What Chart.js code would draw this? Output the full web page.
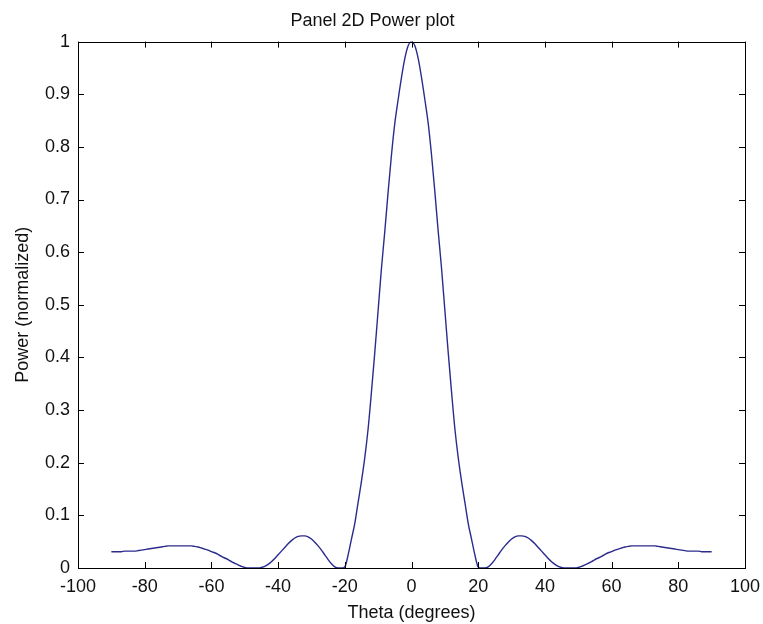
<!DOCTYPE html>
<html>
<head>
<meta charset="utf-8">
<script src="https://cdn.jsdelivr.net/npm/chart.js@4"></script>
<style>
  html, body { margin: 0; padding: 0; background: #ffffff; }
  #wrap { width: 763px; height: 624px; }
</style>
</head>
<body>
<div id="wrap"><canvas id="powerChart" width="763" height="624"></canvas></div>
<script>
// Theta samples (degrees), one per degree
const thetaDeg = [
  -90,-89,-88,-87,-86,-85,-84,-83,-82,-81,
  -80,-79,-78,-77,-76,-75,-74,-73,-72,-71,
  -70,-69,-68,-67,-66,-65,-64,-63,-62,-61,
  -60,-59,-58,-57,-56,-55,-54,-53,-52,-51,
  -50,-49,-48,-47,-46,-45,-44,-43,-42,-41,
  -40,-39,-38,-37,-36,-35,-34,-33,-32,-31,
  -30,-29,-28,-27,-26,-25,-24,-23,-22,-21,
  -20,-19,-18,-17,-16,-15,-14,-13,-12,-11,
  -10,-9,-8,-7,-6,-5,-4,-3,-2,-1,
  0,
  1,2,3,4,5,6,7,8,9,10,
  11,12,13,14,15,16,17,18,19,20,
  21,22,23,24,25,26,27,28,29,30,
  31,32,33,34,35,36,37,38,39,40,
  41,42,43,44,45,46,47,48,49,50,
  51,52,53,54,55,56,57,58,59,60,
  61,62,63,64,65,66,67,68,69,70,
  71,72,73,74,75,76,77,78,79,80,
  81,82,83,84,85,86,87,88,89,90
];

// Normalized power
const powerNorm = [
  0.031,0.031,0.031,0.031,0.032,0.032,0.032,0.032,0.033,0.034,
  0.035,0.036,0.037,0.038,0.039,0.040,0.041,0.042,0.042,0.042,
  0.042,0.042,0.042,0.042,0.042,0.041,0.040,0.038,0.036,0.034,
  0.031,0.029,0.026,0.022,0.019,0.016,0.012,0.009,0.006,0.003,
  0.001,0.000,0.000,0.000,0.000,0.001,0.003,0.007,0.012,0.018,
  0.025,0.032,0.039,0.046,0.052,0.057,0.060,0.061,0.061,0.059,
  0.055,0.049,0.042,0.034,0.025,0.016,0.008,0.002,0.000,0.000,
  0.002,0.025,0.055,0.085,0.125,0.165,0.210,0.265,0.335,0.410,
  0.490,0.570,0.640,0.715,0.785,0.845,0.890,0.932,0.968,0.992,
  1.000,
  0.992,0.968,0.932,0.890,0.845,0.785,0.715,0.640,0.570,0.490,
  0.410,0.335,0.265,0.210,0.165,0.125,0.085,0.055,0.025,0.002,
  0.000,0.000,0.002,0.008,0.016,0.025,0.034,0.042,0.049,0.055,
  0.059,0.061,0.061,0.060,0.057,0.052,0.046,0.039,0.032,0.025,
  0.018,0.012,0.007,0.003,0.001,0.000,0.000,0.000,0.000,0.001,
  0.003,0.006,0.009,0.012,0.016,0.019,0.022,0.026,0.029,0.031,
  0.034,0.036,0.038,0.040,0.041,0.042,0.042,0.042,0.042,0.042,
  0.042,0.042,0.042,0.041,0.040,0.039,0.038,0.037,0.036,0.035,
  0.034,0.033,0.032,0.032,0.032,0.032,0.031,0.031,0.031,0.031
];

const xTickLabels = ['-100','-80','-60','-40','-20','0','20','40','60','80','100'];
const yTickLabels = ['0','0.1','0.2','0.3','0.4','0.5','0.6','0.7','0.8','0.9','1'];

const FONT = '"Liberation Sans", Arial, Helvetica, sans-serif';

// MATLAB-like box with inward tick marks on all four sides
const boxTicks = {
  id: 'boxTicks',
  afterDatasetsDraw(chart) {
    const { ctx, chartArea: a, scales } = chart;
    const len = 6;
    ctx.save();
    ctx.strokeStyle = '#000';
    ctx.lineWidth = 1;
    ctx.beginPath();
    scales.x.ticks.forEach(t => {
      const px = Math.round(scales.x.getPixelForValue(t.value)) + 0.5;
      ctx.moveTo(px, a.bottom); ctx.lineTo(px, a.bottom - len);
      ctx.moveTo(px, a.top); ctx.lineTo(px, a.top + len);
    });
    scales.y.ticks.forEach(t => {
      const py = Math.round(scales.y.getPixelForValue(t.value)) + 0.5;
      ctx.moveTo(a.left, py); ctx.lineTo(a.left + len, py);
      ctx.moveTo(a.right, py); ctx.lineTo(a.right - len, py);
    });
    ctx.stroke();
    ctx.strokeRect(Math.round(a.left) + 0.5, Math.round(a.top) + 0.5,
                   Math.round(a.right - a.left), Math.round(a.bottom - a.top));
    ctx.restore();
  }
};

const points = thetaDeg.map((t, i) => ({ x: t, y: powerNorm[i] }));

new Chart(document.getElementById('powerChart'), {
  type: 'line',
  data: {
    datasets: [{
      data: points,
      borderColor: '#2b2b8e',
      borderWidth: 1.4,
      pointRadius: 0,
      tension: 0.3,
      cubicInterpolationMode: 'monotone',
      fill: false
    }]
  },
  options: {
    responsive: false,
    animation: false,
    layout: { padding: { left: 0, right: 18, top: 0, bottom: 0 } },
    plugins: {
      legend: { display: false },
      tooltip: { enabled: false },
      title: {
        display: true,
        text: 'Panel 2D Power plot',
        color: '#111',
        font: { family: FONT, size: 18, weight: 'normal' },
        padding: { top: 10, bottom: 10 }
      }
    },
    scales: {
      x: {
        type: 'linear',
        min: -100,
        max: 100,
        afterFit(scale) {
          scale.height = 56;
          scale.paddingLeft = 0;
          scale.paddingRight = 0;
        },
        grid: { display: false, drawTicks: false },
        border: { display: false },
        ticks: {
          stepSize: 20,
          padding: 8,
          color: '#111',
          font: { family: FONT, size: 18 },
          maxRotation: 0,
          callback: (v, i) => xTickLabels[i]
        },
        title: {
          display: true,
          text: 'Theta (degrees)',
          color: '#111',
          font: { family: FONT, size: 18 },
          padding: { top: 0, bottom: 0 }
        }
      },
      y: {
        type: 'linear',
        min: 0,
        max: 1,
        afterFit(scale) { scale.width = 78; },
        grid: { display: false, drawTicks: false },
        border: { display: false },
        ticks: {
          stepSize: 0.1,
          padding: 8,
          color: '#111',
          font: { family: FONT, size: 18 },
          callback: (v, i) => yTickLabels[i]
        },
        title: {
          display: true,
          text: 'Power (normalized)',
          color: '#111',
          font: { family: FONT, size: 18 },
          padding: { top: 12, bottom: 0 }
        }
      }
    }
  },
  plugins: [boxTicks]
});
</script>
</body>
</html>
